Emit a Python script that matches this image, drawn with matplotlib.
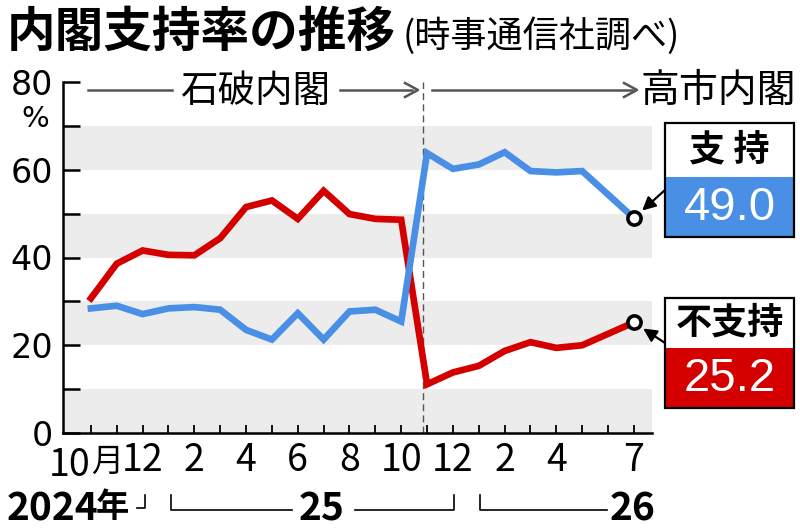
import numpy as np
import matplotlib
matplotlib.use('Agg')
import matplotlib.pyplot as plt
import matplotlib.transforms as mtrans
from matplotlib.patches import Rectangle
from matplotlib.lines import Line2D

plt.rcParams['font.family'] = ['Noto Sans CJK JP', 'DejaVu Sans']

# month index 0 = 2024年10月 ... 21 = 2026年7月
months = list(range(13)) + [13, 14, 15, 16, 17, 18, 19, 21]
support = [28.4, 29.0, 27.1, 28.4, 28.7, 28.1, 23.5, 21.3, 27.3, 21.3, 27.7, 28.1, 25.4,
           63.8, 60.2, 61.2, 64.0, 59.7, 59.4, 59.7, 49.0]
oppose = [30.7, 38.6, 41.6, 40.6, 40.5, 44.4, 51.5, 53.0, 48.8, 55.2, 49.9, 48.8, 48.6,
          11.1, 13.8, 15.3, 18.7, 20.7, 19.4, 20.0, 25.2]
tick_pos = [0, 2, 4, 6, 8, 10, 12, 14, 16, 18, 21]
tick_labels = ['10月', '12', '2', '4', '6', '8', '10', '12', '2', '4', '7']

BLUE = '#4a8fe6'
RED = '#d40000'
W, H = 800, 532
NARROW = ['Liberation Sans Narrow', 'Noto Sans CJK JP']


def fx(x):
    return x / W


def fy(y):
    return 1 - y / H


fig = plt.figure(figsize=(8, 5.32), dpi=100)
ax = fig.add_axes([fx(63), fy(433), fx(652) - fx(63), fy(82) - fy(433)])
ax.set_xlim(-1.08, 21.7)
ax.set_ylim(0, 80)

# background bands
for lo in [0, 20, 40, 60]:
    ax.axhspan(lo, lo + 10, color='#ececec', lw=0, zorder=0)

ax.plot(months, oppose, color=RED, lw=4.8, solid_joinstyle='miter', zorder=3)
ax.plot(months, support, color=BLUE, lw=4.8, solid_joinstyle='miter', zorder=3)
ax.plot(months[-1], support[-1], 'o', ms=9.5, mfc='white', mec='black', mew=2.6, zorder=5)
ax.plot(months[-1], oppose[-1], 'o', ms=9.5, mfc='white', mec='black', mew=2.6, zorder=5)

# cabinet change
ax.axvline(12.85, color='#555555', lw=1, ls=(0, (5, 3)), zorder=2)

for s in ['top', 'right']:
    ax.spines[s].set_visible(False)
ax.spines['left'].set_linewidth(1.8)
ax.spines['bottom'].set_linewidth(1.8)

ax.set_yticks([0, 20, 40, 60, 80])
ax.set_yticks([10, 30, 50, 70], minor=True)
ax.set_yticklabels(['0', '20', '40', '60', '80'], fontsize=24, family=['DejaVu Sans'])
ax.tick_params(axis='y', which='both', direction='in', length=12, width=1.8, pad=7)
ax.set_xticks(range(22), minor=True)
ax.set_xticks(tick_pos)
ax.set_xticklabels(['' if '月' in t else t for t in tick_labels], fontsize=27, family=NARROW)
ax.tick_params(axis='x', which='both', direction='in', length=6, width=1.3, pad=6)

# first tick label "10月" drawn in two pieces so the 月 stays narrow
xb = mtrans.blended_transform_factory(ax.transData, fig.transFigure)
ax.text(tick_pos[0], fy(465), tick_labels[0].replace('月', ''), transform=xb,
        fontsize=27, family=NARROW, ha='right', va='center')
ax.text(tick_pos[0], fy(462), '月', transform=xb, fontsize=23, ha='left', va='center')

fig.text(fx(35), fy(119), '%', fontsize=21, ha='center', va='center', family=['DejaVu Sans'])

# title
fig.text(fx(7), fy(32), '内閣支持率の推移', fontsize=35, fontweight='bold', ha='left', va='center')
fig.text(fx(403), fy(36), '(時事通信社調べ)', fontsize=26, ha='left', va='center')

# cabinet arrows
gray = '#555555'
fig.add_artist(Line2D([fx(88), fx(172)], [fy(90), fy(90)], color=gray, lw=1.8))
fig.text(fx(255), fy(91), '石破内閣', fontsize=27, ha='center', va='center')
fig.add_artist(Line2D([fx(340), fx(412)], [fy(90), fy(90)], color=gray, lw=1.8))
fig.add_artist(Line2D([fx(405), fx(418), fx(405)], [fy(83), fy(90), fy(97)], color=gray, lw=1.8))
fig.add_artist(Line2D([fx(432), fx(632)], [fy(90), fy(90)], color=gray, lw=1.8))
fig.add_artist(Line2D([fx(624), fx(637), fx(624)], [fy(83), fy(90), fy(97)], color=gray, lw=1.8))
fig.text(fx(718), fy(91), '高市内閣', fontsize=28, ha='center', va='center')


# value boxes
def value_box(top, mid, bot, label, value, color, tip_y, start_y):
    x0, x1 = 665, 794
    fig.add_artist(Rectangle((fx(x0), fy(mid)), fx(x1) - fx(x0), fy(top) - fy(mid),
                             transform=fig.transFigure, facecolor='white', edgecolor='none'))
    fig.add_artist(Rectangle((fx(x0), fy(bot)), fx(x1) - fx(x0), fy(mid) - fy(bot),
                             transform=fig.transFigure, facecolor=color, edgecolor='none'))
    fig.add_artist(Rectangle((fx(x0), fy(bot)), fx(x1) - fx(x0), fy(top) - fy(bot),
                             transform=fig.transFigure, facecolor='none', edgecolor='black', lw=1.6))
    fig.text(fx((x0 + x1) / 2), fy((top + mid) / 2), label, fontsize=26, fontweight='bold',
             ha='center', va='center')
    fig.text(fx((x0 + x1) / 2), fy((mid + bot) / 2 + 1), value, fontsize=34, color='white',
             ha='center', va='center', family=['Liberation Sans'])
    ax.annotate('', xy=(months[-1], tip_y), xycoords='data',
                xytext=(fx(x0), fy(start_y)), textcoords='figure fraction',
                arrowprops=dict(arrowstyle='-|>', color='black', lw=1.6, mutation_scale=20,
                                shrinkA=0, shrinkB=8), annotation_clip=False)


value_box(123, 177, 237, '支 持', f'{support[-1]:.1f}', BLUE, support[-1], 190)
value_box(298, 348, 408, '不支持', f'{oppose[-1]:.1f}', RED, oppose[-1], 343)

# year row
yr = 509
fig.text(fx(7), fy(yr), '2024', fontsize=28, fontweight='bold', ha='left', va='center',
         family=NARROW)
fig.text(fx(96), fy(yr - 1), '年', fontsize=24, fontweight='bold', ha='left', va='center')
fig.add_artist(Line2D([fx(137), fx(145), fx(145)], [fy(508), fy(508), fy(495)], color='black', lw=1.2))
fig.add_artist(Line2D([fx(171), fx(171), fx(292)], [fy(495), fy(510), fy(510)], color='black', lw=1.2))
fig.text(fx(322), fy(yr), '25', fontsize=28, fontweight='bold', ha='center', va='center', family=NARROW)
fig.add_artist(Line2D([fx(355), fx(454), fx(454)], [fy(510), fy(510), fy(495)], color='black', lw=1.2))
fig.add_artist(Line2D([fx(480), fx(480), fx(607)], [fy(495), fy(510), fy(510)], color='black', lw=1.2))
fig.text(fx(633), fy(yr), '26', fontsize=28, fontweight='bold', ha='center', va='center', family=NARROW)

fig.savefig('out.png', dpi=100)
